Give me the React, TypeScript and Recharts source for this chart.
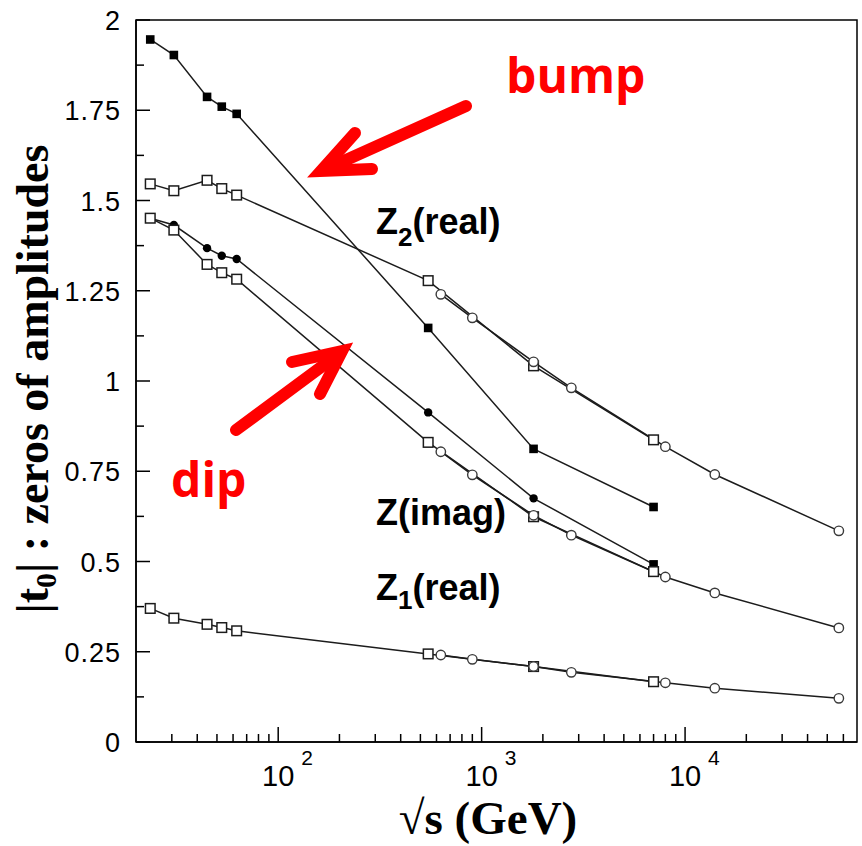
import React from 'react';
import { LineChart, Line, XAxis, YAxis, ReferenceArea } from 'recharts';

// beam energies (GeV)
const isrEnergy = [23.5, 30.7, 44.7, 52.8, 62.5];
const colliderEnergy = [546, 1800, 7000];
const circleEnergy = [630, 900, 1800, 2760, 8000, 14000, 57000];

// |t0| zeros of the amplitudes, square markers: ISR + SPS/Tevatron/LHC
const bumpZeros = [1.946, 1.903, 1.787, 1.76, 1.74, 1.147, 0.812, 0.651];
const z2Squares = [1.546, 1.527, 1.556, 1.533, 1.515, 1.278, 1.042, 0.837];
const imagZeros = [1.451, 1.432, 1.368, 1.347, 1.338, 0.913, 0.675, 0.492];
const dipSquares = [1.451, 1.418, 1.323, 1.3, 1.282, 0.83, 0.624, 0.472];
const z1Squares = [0.37, 0.343, 0.326, 0.317, 0.308, 0.244, 0.209, 0.167];

// circle markers: model predictions
const z2Circles = [1.24, 1.175, 1.053, 0.981, 0.818, 0.741, 0.585];
const dipCircles = [0.804, 0.74, 0.628, 0.573, 0.457, 0.413, 0.316];
const z1Circles = [0.241, 0.229, 0.209, 0.193, 0.164, 0.149, 0.121];

const xTicks = [
  30, 40, 50, 60, 70, 80, 90,
  100, 200, 300, 400, 500, 600, 700, 800, 900,
  1000, 2000, 3000, 4000, 5000, 6000, 7000, 8000, 9000,
  10000, 20000, 30000, 40000, 50000, 60000,
];
const yTicks = [0, 0.125, 0.25, 0.375, 0.5, 0.625, 0.75, 0.875, 1, 1.125, 1.25, 1.375, 1.5, 1.625, 1.75, 1.875, 2];

const squareEnergy = [...isrEnergy, ...colliderEnergy];
const toPoints = (energies: number[], values: number[]) =>
  energies.map((s, i) => ({ s, t0: values[i] }));

const INK = '#1c1c1c';
const SANS = '"Liberation Sans", Arial, sans-serif';
const SERIF = '"Liberation Serif", "Times New Roman", serif';

const openSquare = (p: any) => (
  <rect key={`os-${p.index}`} x={p.cx - 4.8} y={p.cy - 4.8} width={9.6} height={9.6}
    fill="#fff" stroke={INK} strokeWidth={1.5} />
);
const filledSquare = (p: any) => (
  <rect key={`fs-${p.index}`} x={p.cx - 4.3} y={p.cy - 4.3} width={8.6} height={8.6} fill="#000" />
);
const openCircle = (p: any) => (
  <circle key={`oc-${p.index}`} cx={p.cx} cy={p.cy} r={4.7} fill="#fff" stroke="#3a3a3a" strokeWidth={1.4} />
);
// first and last imaginary zeros are drawn as squares
const filledCircle = (p: any) =>
  p.index === 0 || p.index === squareEnergy.length - 1 ? (
    <rect key={`fc-${p.index}`} x={p.cx - 4.3} y={p.cy - 4.3} width={8.6} height={8.6} fill="#000" />
  ) : (
    <circle key={`fc-${p.index}`} cx={p.cx} cy={p.cy} r={4.2} fill="#000" />
  );

const XTick = ({ x, y, payload }: any) => {
  const lg = Math.log10(payload.value);
  const exp = Math.round(lg);
  const major = Math.abs(lg - exp) < 1e-6;
  return (
    <g>
      <line x1={x} x2={x} y1={y} y2={y - (major ? 15 : 8)} stroke="#000" strokeWidth={1.5} />
      {major && (
        <g fontFamily={SANS} fill="#000">
          <text x={x} y={y + 44} textAnchor="middle" fontSize={29}>10</text>
          <text x={x + 23} y={y + 23} fontSize={21}>{exp}</text>
        </g>
      )}
    </g>
  );
};

const YTick = ({ x, y, payload }: any) => {
  const v = payload.value;
  const major = Math.abs(v * 4 - Math.round(v * 4)) < 1e-6;
  return (
    <g>
      <line x1={x} x2={x + (major ? 14 : 8)} y1={y} y2={y} stroke="#000" strokeWidth={1.5} />
      {major && (
        <text x={x - 15} y={y + 10} textAnchor="end" fontSize={27} fontFamily={SANS}
          letterSpacing={1} fill="#000">
          {String(v)}
        </text>
      )}
    </g>
  );
};

const series = [
  { name: 'bump', x: squareEnergy, y: bumpZeros, dot: filledSquare },
  { name: 'z2sq', x: squareEnergy, y: z2Squares, dot: openSquare },
  { name: 'z2ci', x: circleEnergy, y: z2Circles, dot: openCircle },
  { name: 'imag', x: squareEnergy, y: imagZeros, dot: filledCircle },
  { name: 'dipsq', x: squareEnergy, y: dipSquares, dot: openSquare },
  { name: 'dipci', x: circleEnergy, y: dipCircles, dot: openCircle },
  { name: 'z1sq', x: squareEnergy, y: z1Squares, dot: openSquare },
  { name: 'z1ci', x: circleEnergy, y: z1Circles, dot: openCircle },
];

const Overlay = () => (
  <svg width={862} height={846} style={{ position: 'absolute', left: 0, top: 0, pointerEvents: 'none' }}>
    {/* axis titles */}
    <text transform="translate(48,379) rotate(-90)" textAnchor="middle" fontFamily={SERIF}
      fontWeight="bold" fontSize={46} fill="#000">
      |t<tspan fontSize={30} dy={8}>0</tspan><tspan dy={-8}>| : zeros of amplitudes</tspan>
    </text>
    <text x={488} y={834} textAnchor="middle" fontFamily={SERIF} fontWeight="bold" fontSize={47} fill="#000">
      √s (GeV)
    </text>

    {/* curve labels */}
    <g fontFamily={SANS} fontWeight="bold" fill="#000">
      <text x={376} y={234} fontSize={36}>Z<tspan fontSize={26} dy={12}>2</tspan><tspan dy={-12}>(real)</tspan></text>
      <text x={376} y={525} fontSize={36}>Z(imag)</text>
      <text x={376} y={600} fontSize={36}>Z<tspan fontSize={26} dy={9}>1</tspan><tspan dy={-9}>(real)</tspan></text>
    </g>

    {/* red arrows */}
    <g stroke="#ff0000" strokeWidth={12} fill="none" strokeLinecap="round" strokeLinejoin="miter">
      <line x1={466} y1={106} x2={326} y2={169} />
      <polyline points="355,133 321,171 372,169" />
      <line x1={236} y1={430} x2={336} y2={356} />
      <polyline points="292,362 342,351 320,394" />
    </g>
    <g fontFamily='"Open Sans", sans-serif' fontWeight="bold" fontSize={48} fill="#ff0000">
      <text x={506} y={93}>bump</text>
      <text x={171} y={497}>dip</text>
    </g>
  </svg>
);

export default function App() {
  return (
    <div style={{ position: 'absolute', left: 0, top: 0, width: 862, height: 846, background: '#fff' }}>
      <LineChart width={862} height={846} margin={{ top: 20, right: 5, bottom: 0, left: 0 }}>
        <XAxis
          dataKey="s"
          type="number"
          scale="log"
          domain={[20, 70000]}
          allowDataOverflow
          ticks={xTicks}
          interval={0}
          height={104}
          tickSize={0}
          tickMargin={0}
          tickLine={false}
          axisLine={{ stroke: '#000', strokeWidth: 1.5 }}
          tick={<XTick />}
        />
        <YAxis
          type="number"
          domain={[0, 2]}
          ticks={yTicks}
          interval={0}
          width={136}
          tickSize={0}
          tickMargin={0}
          tickLine={false}
          axisLine={{ stroke: '#000', strokeWidth: 1.5 }}
          tick={<YTick />}
        />
        <ReferenceArea x1={20} x2={70000} y1={0} y2={2} fill="none" stroke="#000" strokeWidth={1.5} />
        {series.map((sr) => (
          <Line
            key={sr.name}
            data={toPoints(sr.x, sr.y)}
            dataKey="t0"
            type="linear"
            stroke={INK}
            strokeWidth={1.5}
            dot={sr.dot}
            activeDot={false}
            isAnimationActive={false}
          />
        ))}
      </LineChart>
      <Overlay />
    </div>
  );
}
